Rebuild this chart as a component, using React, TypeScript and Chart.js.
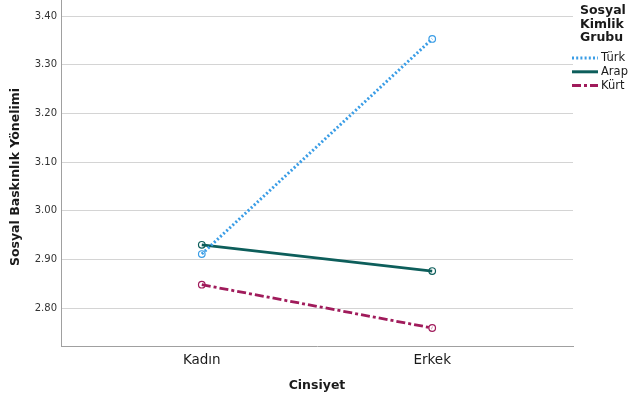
import React, { useEffect, useRef } from "react";
import { Chart, registerables } from "chart.js";

Chart.register(...registerables);

const categories = ["Kadın", "Erkek"];
const seriesNames = ["Türk", "Arap", "Kürt"];
const turk = [2.911, 3.353];
const arap = [2.930, 2.876];
const kurt = [2.848, 2.759];
const yTicks = [2.8, 2.9, 3.0, 3.1, 3.2, 3.3, 3.4];
const legendTitle = ["Sosyal", "Kimlik", "Grubu"];
const yTitle = "Sosyal Baskınlık Yönelimi";
const xTitle = "Cinsiyet";

const colors = ["#3a9de6", "#0d5e5b", "#a01b5b"];
const dashes = [[2, 2.2], [], [9, 3, 3, 3]];

const FONT = "'DejaVu Sans', sans-serif";

const textPlugin = {
  id: "texts",
  afterDraw(chart: any) {
    const ctx = chart.ctx;
    const area = chart.chartArea;
    ctx.save();
    ctx.fillStyle = "#1a1a1a";
    ctx.font = `bold 12.5px ${FONT}`;
    ctx.textAlign = "center";
    ctx.textBaseline = "middle";
    ctx.save();
    ctx.translate(16, 177);
    ctx.rotate(-Math.PI / 2);
    ctx.fillText(yTitle, 0, 0);
    ctx.restore();
    ctx.fillText(xTitle, (area.left + area.right) / 2, 386);
    ctx.textAlign = "left";
    ctx.font = `bold 12.5px ${FONT}`;
    legendTitle.forEach((t, i) => ctx.fillText(t, 580, 11 + i * 13.5));
    ctx.font = `11.5px ${FONT}`;
    seriesNames.forEach((n, i) => {
      const y = 58 + i * 13.8;
      ctx.save();
      ctx.strokeStyle = colors[i];
      ctx.lineWidth = 3;
      ctx.setLineDash(dashes[i]);
      ctx.beginPath();
      ctx.moveTo(572, y);
      ctx.lineTo(598, y);
      ctx.stroke();
      ctx.restore();
      ctx.fillStyle = "#1a1a1a";
      ctx.fillText(n, 601, y);
    });
    ctx.restore();
  },
};

export default function App() {
  const ref = useRef<HTMLCanvasElement>(null);
  useEffect(() => {
    if (!ref.current) return;
    const series = [turk, arap, kurt];
    const chart = new Chart(ref.current, {
      type: "line",
      data: {
        datasets: series.map((s, i) => ({
          label: seriesNames[i],
          data: s.map((v, j) => ({ x: j, y: v })),
          borderColor: colors[i],
          borderWidth: i === 0 ? 3 : 2.8,
          borderDash: dashes[i],
          pointRadius: 3.3,
          pointBorderWidth: 1.2,
          pointBackgroundColor: "rgba(255,255,255,0)",
          pointBorderColor: colors[i],
          fill: false,
          tension: 0,
        })),
      },
      options: {
        responsive: false,
        animation: false,
        layout: { autoPadding: false, padding: { left: 0, top: 0, right: 55, bottom: 0 } },
        plugins: { legend: { display: false }, tooltip: { enabled: false } },
        scales: {
          x: {
            type: "linear",
            min: -0.611,
            max: 1.611,
            afterBuildTicks: (s: any) => {
              s.ticks = categories.map((_, i) => ({ value: i }));
            },
            afterFit: (s: any) => {
              s.height = 56;
              s.paddingLeft = 0;
              s.paddingRight = 0;
            },
            ticks: {
              callback: (v: any) => categories[Math.round(Number(v))] ?? "",
              font: { family: FONT, size: 13.5 },
              color: "#1a1a1a",
              padding: 6,
              maxRotation: 0,
            },
            grid: { display: false, drawTicks: false },
            border: { display: true, color: "#a0a0a0", width: 1 },
          },
          y: {
            type: "linear",
            min: 2.722,
            max: 3.433,
            afterBuildTicks: (s: any) => {
              s.ticks = yTicks.map((v) => ({ value: v }));
            },
            afterFit: (s: any) => {
              s.width = 61;
              s.paddingTop = 0;
              s.paddingBottom = 0;
            },
            ticks: {
              callback: (v: any) => Number(v).toFixed(2),
              font: { family: FONT, size: 10 },
              color: "#333333",
              padding: 4,
            },
            grid: { color: "#d4d4d4", lineWidth: 1, drawTicks: false },
            border: { display: true, color: "#a0a0a0", width: 1 },
          },
        },
      },
      plugins: [textPlugin],
    });
    return () => chart.destroy();
  }, []);
  return (
    <div style={{ position: "absolute", left: 0, top: 0, width: 628, height: 402, background: "#fff" }}>
      <canvas ref={ref} width={628} height={402} style={{ display: "block" }} />
    </div>
  );
}
